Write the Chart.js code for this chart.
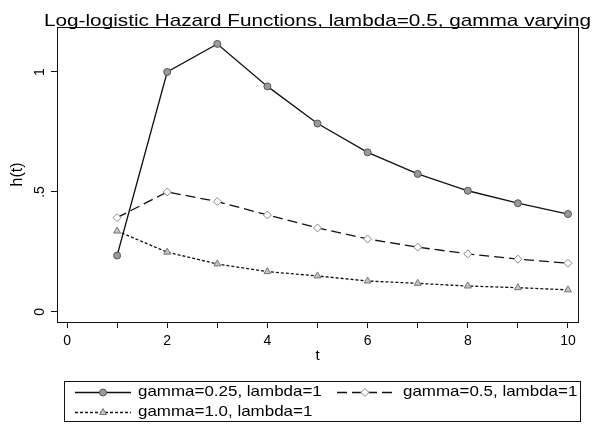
<!DOCTYPE html>
<html>
<head>
<meta charset="utf-8">
<script src="https://cdn.jsdelivr.net/npm/chart.js@4/dist/chart.umd.min.js"></script>
<style>
  html, body { margin: 0; padding: 0; background: #fff; }
</style>
</head>
<body>
<canvas id="myChart" width="594" height="431"></canvas>
<script>
const tValues = [1, 2, 3, 4, 5, 6, 7, 8, 9, 10]
const hGamma025 = [0.235, 1.0, 1.117, 0.94, 0.785, 0.665, 0.575, 0.505, 0.453, 0.408]
const hGamma05 = [0.393, 0.50, 0.46, 0.404, 0.35, 0.304, 0.27, 0.242, 0.22, 0.203]
const hGamma10 = [0.337, 0.249, 0.2, 0.168, 0.15, 0.129, 0.119, 0.108, 0.101, 0.092]
const seriesLabels = ['gamma=0.25, lambda=1', 'gamma=0.5, lambda=1', 'gamma=1.0, lambda=1']
const chartTitle = 'Log-logistic Hazard Functions, lambda=0.5, gamma varying'
const xTicks = [0, 1, 2, 3, 4, 5, 6, 7, 8, 9, 10]
const xTickLabels = ['0', '', '2', '', '4', '', '6', '', '8', '', '10']
const yTicks = [0, 0.5, 1]
const yTickLabels = ['0', '.5', '1']

const FONT = '"Liberation Sans", Arial, sans-serif'
Chart.defaults.font.family = FONT
Chart.defaults.color = '#000'

const toPoints = ys => tValues.map((t, i) => ({ x: t, y: ys[i] }))

// the original text is a bit wide, so stretch it sideways
function wideText(ctx, text, x, y, stretch, align) {
    ctx.save()
    ctx.translate(x, y)
    ctx.scale(stretch, 1)
    ctx.textAlign = align
    ctx.fillText(text, 0, 0)
    ctx.restore()
}

// title, frame round the plot, turned y tick labels, boxed legend below
const extras = {
    id: 'extras',
    afterDraw(chart) {
        const ctx = chart.ctx, a = chart.chartArea
        ctx.save()
        ctx.fillStyle = '#000'
        ctx.textBaseline = 'alphabetic'
        ctx.font = '17px ' + FONT
        wideText(ctx, chartTitle, (a.left + a.right) / 2, a.top - 1, 1.22, 'center')

        ctx.strokeStyle = '#111'
        ctx.lineWidth = 1
        ctx.setLineDash([])
        ctx.strokeRect(a.left + 0.5, a.top + 0.5, a.right - a.left, a.bottom - a.top)

        const ys = chart.scales.y
        ctx.font = '14px ' + FONT
        ctx.textAlign = 'center'
        ctx.textBaseline = 'middle'
        yTicks.forEach((v, i) => {
            ctx.save()
            ctx.translate(a.left - 17, ys.getPixelForValue(v))
            ctx.rotate(-Math.PI / 2)
            ctx.fillText(yTickLabels[i], 0, 0)
            ctx.restore()
        })

        // legend
        const top = a.bottom + 59, bottom = a.bottom + 99
        ctx.strokeRect(a.left + 7.5, top + 0.5, a.right - a.left - 5, bottom - top)
        const items = [
            { ds: 0, x: a.left + 18, y: top + 11, tx: a.left + 81 },
            { ds: 1, x: a.left + 280, y: top + 11, tx: a.left + 346 },
            { ds: 2, x: a.left + 18, y: top + 31, tx: a.left + 81 },
        ]
        items.forEach(it => {
            const ds = chart.data.datasets[it.ds]
            ctx.beginPath()
            ctx.setLineDash(ds.borderDash || [])
            ctx.lineWidth = ds.borderWidth
            ctx.strokeStyle = ds.borderColor
            ctx.moveTo(it.x, it.y + 0.5)
            ctx.lineTo(it.x + 56, it.y + 0.5)
            ctx.stroke()
            ctx.setLineDash([])
            ctx.fillStyle = ds.pointBackgroundColor
            ctx.strokeStyle = ds.pointBorderColor
            ctx.lineWidth = ds.pointBorderWidth
            Chart.helpers.drawPoint(ctx, {
                pointStyle: ds.pointStyle, radius: ds.pointRadius,
                borderWidth: ds.pointBorderWidth, rotation: 0
            }, it.x + 28, it.y + 0.5)
            ctx.fillStyle = '#000'
            ctx.font = '15px ' + FONT
            ctx.textBaseline = 'middle'
            wideText(ctx, ds.label, it.tx, it.y, 1.13, 'left')
        })
        ctx.restore()
    }
}

new Chart('myChart', {
    type: 'scatter',
    data: {
        datasets: [{
            label: seriesLabels[0],
            data: toPoints(hGamma025),
            showLine: true,
            borderColor: '#111',
            borderWidth: 1.3,
            pointStyle: 'circle',
            pointRadius: 3.5,
            pointBackgroundColor: '#9a9a9a',
            pointBorderColor: '#555',
            pointBorderWidth: 1,
        },
        {
            label: seriesLabels[1],
            data: toPoints(hGamma05),
            showLine: true,
            borderColor: '#111',
            borderWidth: 1.3,
            borderDash: [10, 5],
            pointStyle: 'rectRot',
            pointRadius: 4,
            pointBackgroundColor: '#fff',
            pointBorderColor: '#888',
            pointBorderWidth: 1,
        },
        {
            label: seriesLabels[2],
            data: toPoints(hGamma10),
            showLine: true,
            borderColor: '#111',
            borderWidth: 1.3,
            borderDash: [3, 2],
            pointStyle: 'triangle',
            pointRadius: 4,
            pointBackgroundColor: '#c4c4c4',
            pointBorderColor: '#777',
            pointBorderWidth: 1,
        },
        ],
    },
    options: {
        responsive: false,
        maintainAspectRatio: false,
        animation: false,
        layout: { padding: { left: 0, right: 16, top: 27, bottom: 65 } },
        plugins: {
            legend: { display: false },
            tooltip: { enabled: false },
        },
        scales: {
            x: {
                type: 'linear',
                min: -0.2,
                max: 10.2,
                afterBuildTicks: s => { s.ticks = xTicks.map(v => ({ value: v })) },
                afterFit: s => { s.height = 44 },
                ticks: {
                    font: { size: 14 },
                    color: '#000',
                    padding: 5,
                    maxRotation: 0,
                    autoSkip: false,
                    callback: (v, i) => xTickLabels[i],
                },
                grid: { drawOnChartArea: false, drawTicks: true, tickLength: 6, color: '#111' },
                border: { display: false },
                title: { display: true, text: 't', font: { size: 15 }, padding: { top: 0, bottom: 1 } },
            },
            y: {
                type: 'linear',
                min: -0.042,
                max: 1.1875,
                afterBuildTicks: s => { s.ticks = yTicks.map(v => ({ value: v })) },
                afterFit: s => { s.width = 57 },
                ticks: { display: false },
                grid: { drawOnChartArea: false, drawTicks: true, tickLength: 6, color: '#111' },
                border: { display: false },
                title: { display: true, text: 'h(t)', font: { size: 16 }, padding: { top: 8, bottom: 0 } },
            },
        }
    },
    plugins: [extras]
});
</script>
</body>
</html>
